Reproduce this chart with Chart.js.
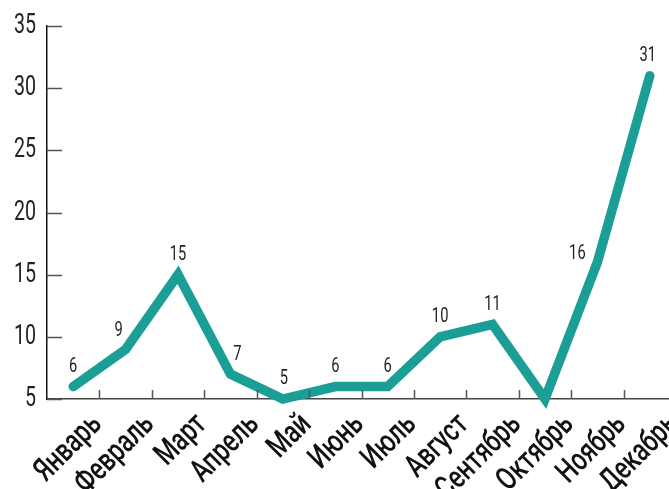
<!DOCTYPE html>
<html>
<head>
<meta charset="utf-8">
<script src="https://cdn.jsdelivr.net/npm/chart.js@4"></script>
<style>
  html, body { margin: 0; padding: 0; background: #fff; overflow: hidden; }
  #wrap { width: 680px; height: 489px; }
</style>
</head>
<body>
<div id="wrap"><canvas id="chartMonths"></canvas></div>
<script>
const months = ['Январь', 'Февраль', 'Март', 'Апрель', 'Май', 'Июнь', 'Июль',
                'Август', 'Сентябрь', 'Октябрь', 'Ноябрь', 'Декабрь'];
const values = [6, 9, 15, 7, 5, 6, 6, 10, 11, 5, 16, 31];
const yTicks = [5, 10, 15, 20, 25, 30, 35];

// where each value label sits relative to its point (null = hidden)
const labelShift = [[0, -20], [-7, -19], [0, -20], [7, -19], [1, -20], [0, -20],
                    [0, -20], [0, -20], [0, -20], null, [-20, -8], [-2, -20]];

const FONT = 'Roboto, "Noto Sans", sans-serif';
const NARROW = 0.7; // no condensed face installed, so squeeze the glyphs
const TEAL = '#1a9e95';

function narrowText(c, text, x, y, angle, align, squeeze) {
    c.save();
    c.translate(x, y);
    c.rotate(angle);
    c.scale(squeeze || NARROW, 1);
    c.textAlign = align;
    c.fillText(text, 0, 0);
    c.restore();
}

const innerTicks = {
    id: 'innerTicks',
    afterDraw(chart) {
        const c = chart.ctx;
        const x = chart.scales.x, y = chart.scales.y;
        c.save();
        c.strokeStyle = '#555';
        c.lineWidth = 1.5;
        c.beginPath();
        yTicks.forEach(v => {
            const py = Math.round(y.getPixelForValue(v)) + 0.5;
            c.moveTo(x.left, py);
            c.lineTo(x.left + 15, py);
        });
        for (let i = 1; i < months.length; i++) {
            const px = Math.round((x.getPixelForTick(i - 1) + x.getPixelForTick(i)) / 2) + 0.5;
            c.moveTo(px, y.bottom);
            c.lineTo(px, y.bottom - 9);
        }
        c.stroke();

        // axis labels
        c.textBaseline = 'middle';
        c.fillStyle = '#222';
        c.font = '28px ' + FONT;
        yTicks.forEach(v => {
            narrowText(c, String(v), x.left - 11, y.getPixelForValue(v), 0, 'right');
        });
        c.fillStyle = '#111';
        c.font = '500 32px ' + FONT;
        months.forEach((m, i) => {
            narrowText(c, m, x.getPixelForTick(i) + 24, y.bottom + 21, -Math.PI / 4, 'right', 0.74);
        });
        c.restore();
    }
};

const valueLabels = {
    id: 'valueLabels',
    afterDatasetsDraw(chart) {
        const c = chart.ctx;
        const meta = chart.getDatasetMeta(0);
        c.save();
        c.font = '21px ' + FONT;
        c.fillStyle = '#222';
        c.textBaseline = 'middle';
        meta.data.forEach((pt, i) => {
            const s = labelShift[i];
            if (!s) return;
            narrowText(c, String(values[i]), pt.x + s[0], pt.y + s[1], 0, 'center');
        });
        c.restore();
    }
};

new Chart(document.getElementById('chartMonths'), {
    type: 'line',
    data: {
        labels: months,
        datasets: [{
            data: values,
            borderColor: TEAL,
            borderWidth: 9.5,
            borderCapStyle: 'round',
            borderJoinStyle: 'miter',
            pointRadius: 0,
            tension: 0,
            clip: false
        }]
    },
    options: {
        responsive: true,
        maintainAspectRatio: false,
        animation: false,
        layout: { padding: { top: 26, right: 4, left: 0, bottom: 0 } },
        plugins: { legend: { display: false }, tooltip: { enabled: false } },
        scales: {
            x: {
                offset: true,
                grid: { display: true, drawOnChartArea: false, drawTicks: false },
                border: { color: '#444', width: 1.5 },
                ticks: { display: false },
                afterFit(scale) { scale.height = 90; }
            },
            y: {
                min: 5,
                max: 35,
                afterBuildTicks(scale) { scale.ticks = yTicks.map(v => ({ value: v })); },
                grid: { display: true, drawOnChartArea: false, drawTicks: false },
                border: { color: '#111', width: 1.5 },
                ticks: { display: false },
                afterFit(scale) { scale.width = 47; }
            }
        }
    },
    plugins: [innerTicks, valueLabels]
});
</script>
</body>
</html>
